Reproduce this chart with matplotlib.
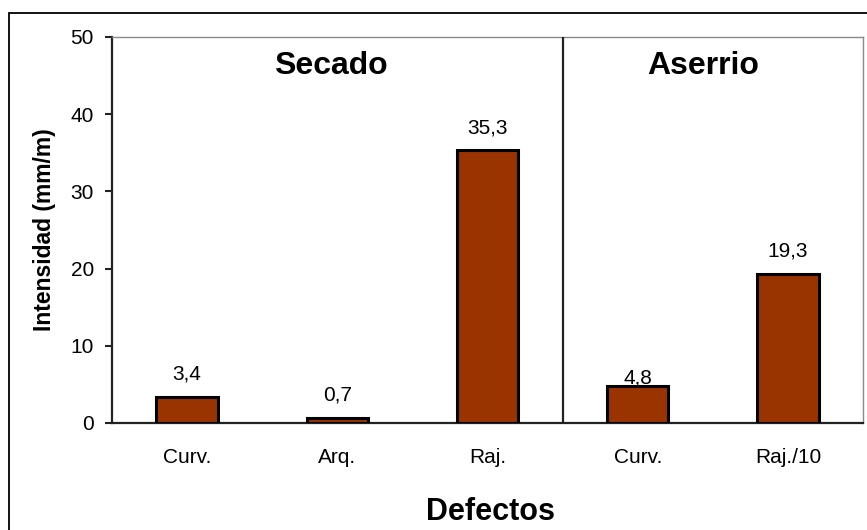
import matplotlib
matplotlib.use("Agg")
import matplotlib.pyplot as plt
from matplotlib.patches import Rectangle

# Defect intensity per category (mm/m)
categories = ["Curv.", "Arq.", "Raj.", "Curv.", "Raj./10"]
values = [3.4, 0.7, 35.3, 4.8, 19.3]
value_labels = ["3,4", "0,7", "35,3", "4,8", "19,3"]
groups = ["Secado", "Aserrio"]
y_ticks = [0, 10, 20, 30, 40, 50]

plt.rcParams["font.family"] = ["Liberation Sans", "DejaVu Sans"]

W, H = 867, 530
fig = plt.figure(figsize=(W / 100, H / 100), dpi=100)
fig.patch.set_facecolor("white")

# outer chart frame (runs off the right and bottom edges)
fig.patches.append(Rectangle((9 / W, -0.05), 1.2, 1 - 13 / H + 0.05,
                             transform=fig.transFigure, fill=False,
                             edgecolor="black", linewidth=1.3))

ax = fig.add_axes([112 / W, 1 - 423 / H, (863 - 112) / W, (423 - 37) / H])
x = list(range(len(categories)))
ax.bar(x, values, width=0.41, color="#993300", edgecolor="black",
       linewidth=2.2, zorder=3)

ax.set_xlim(-0.5, len(categories) - 0.5)
ax.set_ylim(0, 50)
ax.set_yticks(y_ticks)
ax.set_yticklabels([str(t) for t in y_ticks], fontsize=15)
ax.set_xticks(x)
ax.set_xticklabels(categories, fontsize=15)
ax.tick_params(axis="x", length=0, pad=18)
ax.tick_params(axis="y", direction="out", length=5, width=1.5, pad=8,
               color="#222222")

for side in ("top", "right"):
    ax.spines[side].set_color("#8a8a8a")
    ax.spines[side].set_linewidth(1.0)
for side in ("left", "bottom"):
    ax.spines[side].set_color("#222222")
    ax.spines[side].set_linewidth(1.6)

# divider between the two processes
ax.axvline(2.5, color="#222222", linewidth=1.6, zorder=4)

# value labels above bars (points above bar top)
label_offsets = [12.5, 12.5, 12.5, 2, 12.5]
for xi, v, lab, off in zip(x, values, value_labels, label_offsets):
    ax.annotate(lab, (xi, v), xytext=(0, off), textcoords="offset points",
                ha="center", va="baseline", fontsize=15)

ax.text(0.2916, 0.925, groups[0], transform=ax.transAxes, ha="center",
        va="center", fontsize=23, fontweight="bold")
ax.text(0.7876, 0.925, groups[1], transform=ax.transAxes, ha="center",
        va="center", fontsize=23, fontweight="bold")

fig.text(45 / W, 1 - 230 / H, "Intensidad (mm/m)", rotation=90,
         ha="center", va="center", fontsize=16.5, fontweight="bold")
fig.text(490 / W, 1 - 512 / H, "Defectos", ha="center", va="center",
         fontsize=22, fontweight="bold")

fig.savefig("out.png", dpi=100, facecolor="white")
